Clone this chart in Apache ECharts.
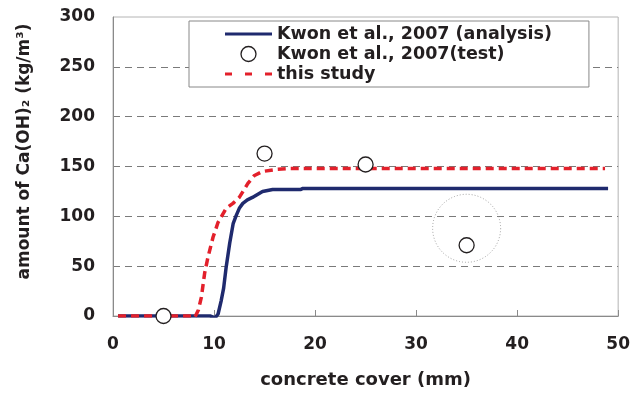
<!DOCTYPE html>
<html>
<head>
<meta charset="utf-8">
<script src="https://cdn.jsdelivr.net/npm/echarts@6/dist/echarts.min.js"></script>
<style>
  html, body { margin: 0; padding: 0; background: #fff; }
  #chart { width: 633px; height: 394px; }
</style>
</head>
<body>
<div id="chart"></div>
<script>
// Ca(OH)2 profile versus concrete cover depth
const analysisX = [0.5, 2, 4, 6, 8, 9.6, 10.1, 10.4, 10.7, 10.95, 11.2, 11.55, 11.9, 12.2, 12.5, 12.85, 13.3, 13.8, 14.8, 15.8, 17, 18.6, 18.8, 25, 30, 35, 40, 45, 49];
const analysisY = [0, 0, 0, 0, 0, 0, -2, 2, 15, 28, 49, 73, 93, 101, 108, 113, 116.5, 119, 125, 127, 127, 127, 128, 128, 128, 128, 128, 128, 128];

const studyX = [0.5, 2, 4, 6, 7.9, 8.1, 8.45, 8.75, 9.07, 9.4, 9.9, 10.4, 11.2, 11.87, 12.5, 13.35, 14, 14.8, 16.1, 17.5, 20, 30, 40, 48.7];
const studyY = [0, 0, 0, 0, 0, -1.5, 6, 19, 43, 59, 79, 94, 108, 113, 119, 133, 141, 145, 147, 148, 148, 148, 148, 148];

const testX = [5, 15, 25, 35];
const testY = [0, 163, 152, 71];

// dotted ring around the outlying test point
const ringX = [35];
const ringY = [88];

const xTicks = [0, 10, 20, 30, 40, 50];
const yTicks = [0, 50, 100, 150, 200, 250, 300];

const names = ['Kwon et al., 2007 (analysis)', 'Kwon et al., 2007(test)', 'this study'];

const zip = (xs, ys) => xs.map((x, i) => [x, ys[i]]);

const FONT = '"DejaVu Sans", sans-serif';
const INK = '#231f20';
const NAVY = '#1f2a6e';
const RED = '#e3202b';

// legend keys: a solid bar and a three-dash bar
const solidKey = 'path://M0,0H47V3H0Z';
const dashKey = 'path://M0,0H7V3H0Z M20,0H27V3H20Z M40,0H47V3H40Z';

const chart = echarts.init(document.getElementById('chart'), null, { renderer: 'canvas' });
chart.setOption({
  animation: false,
  backgroundColor: '#ffffff',
  grid: {
    left: 113, right: 13, top: 17, bottom: 78,
    show: true, borderColor: '#b4b4b4', borderWidth: 1
  },
  legend: {
    data: [
      { name: names[0], icon: solidKey, itemStyle: { color: NAVY, borderWidth: 0 } },
      { name: names[1], icon: 'circle', itemStyle: { color: '#ffffff', borderColor: INK, borderWidth: 1.3 } },
      { name: names[2], icon: dashKey, itemStyle: { color: RED, borderWidth: 0 } }
    ],
    orient: 'vertical',
    left: 189, top: 21,
    padding: [4, 37, 4, 36],
    itemWidth: 47, itemHeight: 15, itemGap: 2,
    backgroundColor: '#ffffff',
    borderColor: '#888888', borderWidth: 1, borderRadius: 0,
    textStyle: { fontFamily: FONT, fontWeight: 'bold', fontSize: 17.5, color: INK, lineHeight: 15 }
  },
  xAxis: {
    type: 'value', min: 0, max: 50, interval: 10,
    name: 'concrete cover (mm)', nameLocation: 'middle', nameGap: 55,
    nameTextStyle: { fontFamily: FONT, fontWeight: 'bold', fontSize: 18, color: INK },
    axisLine: { show: true, lineStyle: { color: '#8a8a8a', width: 1 } },
    axisTick: { show: true, inside: true, length: 6, lineStyle: { color: '#8a8a8a' } },
    axisLabel: {
      margin: 20, fontFamily: FONT, fontWeight: 'bold', fontSize: 17, color: INK,
      customValues: xTicks
    },
    splitLine: { show: false }
  },
  yAxis: {
    type: 'value', min: 0, max: 300, interval: 50,
    name: 'amount of Ca(OH)\u2082 (kg/m\u00b3)', nameLocation: 'middle', nameGap: 80,
    nameTextStyle: { fontFamily: FONT, fontWeight: 'bold', fontSize: 17, color: INK, padding: [0, 0, 0, 30] },
    axisLine: { show: true, lineStyle: { color: '#8a8a8a', width: 1 } },
    axisTick: { show: false },
    axisLabel: {
      margin: 18, fontFamily: FONT, fontWeight: 'bold', fontSize: 17, color: INK,
      customValues: yTicks
    },
    splitLine: { show: true, showMaxLine: false, lineStyle: { color: '#7a7a7a', type: [7, 5], width: 1 } }
  },
  series: [
    {
      name: names[0], type: 'line', data: zip(analysisX, analysisY),
      symbol: 'none', smooth: false,
      lineStyle: { color: NAVY, width: 3.5 },
      itemStyle: { color: NAVY }, z: 3
    },
    {
      name: names[2], type: 'line', data: zip(studyX, studyY),
      symbol: 'none', smooth: false,
      lineStyle: { color: RED, width: 3.5, type: [8, 5] },
      itemStyle: { color: RED }, z: 4
    },
    {
      name: names[1], type: 'scatter', data: zip(testX, testY),
      symbol: 'circle', symbolSize: 15,
      itemStyle: { color: '#ffffff', borderColor: INK, borderWidth: 1.3, opacity: 1 },
      z: 6
    },
    {
      name: 'ring', type: 'scatter', data: zip(ringX, ringY),
      symbol: 'circle', symbolSize: 68, silent: true,
      itemStyle: { color: 'rgba(0,0,0,0)', borderColor: '#8c8c8c', borderWidth: 1, borderType: [1, 2] },
      z: 5
    }
  ]
});
</script>
</body>
</html>
